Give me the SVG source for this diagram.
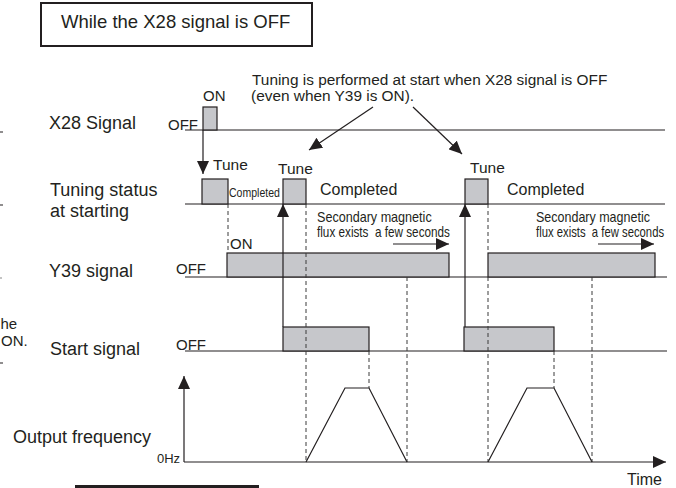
<svg xmlns="http://www.w3.org/2000/svg" width="676" height="488" viewBox="0 0 676 488">
<defs>
<style>
text{font-family:"Liberation Sans",Arial,sans-serif;fill:#231f20}
.lbl{font-size:18px}
.sm{font-size:15px}
.cond{font-size:14px;white-space:pre}
.ln{stroke:#231f20;stroke-width:1.2;fill:none}
.box{fill:#c6c7cb;stroke:#231f20;stroke-width:1.2}
.dash{stroke:#3a3a3a;stroke-width:1;stroke-dasharray:4 3;fill:none}
.ar{stroke:#231f20;stroke-width:1.2;fill:none;marker-end:url(#ah)}
</style>
<marker id="ah" markerUnits="userSpaceOnUse" markerWidth="13" markerHeight="12" refX="13" refY="6" orient="auto">
<path d="M0,0 L13,6 L0,12 z" fill="#231f20"/>
</marker>
</defs>
<rect width="676" height="488" fill="#ffffff"/>

<g id="title">
<rect x="41" y="3" width="271" height="43" fill="#fff" stroke="#231f20" stroke-width="2"/>
<text x="61" y="28" style="font-size:18.5px">While the X28 signal is OFF</text>
</g>

<g id="fragments">
<text x="0.5" y="329" class="sm">he</text>
<text x="1" y="346" class="sm">ON.</text>
<rect x="0" y="131.5" width="3" height="1" fill="#231f20"/>
<rect x="0" y="204.5" width="3" height="1" fill="#231f20"/>
<rect x="0" y="277.5" width="2" height="1" fill="#888"/>
<rect x="0" y="362.5" width="3" height="1" fill="#231f20"/>
</g>

<g id="labels">
<text x="49" y="129" class="lbl">X28 Signal</text>
<text x="50" y="196" class="lbl">Tuning status</text>
<text x="50" y="217" class="lbl">at starting</text>
<text x="49" y="277" class="lbl">Y39 signal</text>
<text x="50" y="355" class="lbl">Start signal</text>
<text x="13" y="443" class="lbl">Output frequency</text>
<text x="157" y="463" style="font-size:13px">0Hz</text>
<text x="627" y="485" style="font-size:16px">Time</text>
</g>

<g id="annotation">
<text x="252" y="84.5" style="font-size:15.4px">Tuning is performed at start when X28 signal is OFF</text>
<text x="251" y="100.5" style="font-size:15.4px">(even when Y39 is ON).</text>
</g>

<g id="x28">
<path class="ln" d="M185,130 H665"/>
<rect class="box" x="203" y="107" width="14" height="23"/>
<text x="203" y="101" class="sm">ON</text>
<text x="168" y="130" class="sm">OFF</text>
</g>

<g id="tuning">
<path class="ln" d="M185,204 H665"/>
<rect class="box" x="202" y="179" width="26" height="25"/>
<rect class="box" x="283" y="179" width="23" height="25"/>
<rect class="box" x="465" y="179" width="23" height="25"/>
<text x="213" y="170" style="font-size:15.5px">Tune</text>
<text x="278" y="174" style="font-size:15.5px">Tune</text>
<text x="470" y="173" style="font-size:15.5px">Tune</text>
<text transform="translate(229,197) scale(0.81,1)" style="font-size:13px">Completed</text>
<text x="320" y="195" style="font-size:16px">Completed</text>
<text x="507" y="195" style="font-size:16px">Completed</text>
</g>

<g id="y39">
<path class="ln" d="M185,277 H667"/>
<rect class="box" x="227" y="253" width="222" height="24"/>
<rect class="box" x="488" y="253" width="167" height="24"/>
<text x="230" y="249" class="sm">ON</text>
<text x="176" y="274" class="sm">OFF</text>
<text class="cond" transform="translate(317,222) scale(0.9,1)">Secondary magnetic</text>
<text class="cond" xml:space="preserve" transform="translate(317,237) scale(0.838,1)">flux exists  a few seconds</text>
<text class="cond" transform="translate(536,222) scale(0.893,1)">Secondary magnetic</text>
<text class="cond" xml:space="preserve" transform="translate(536,237) scale(0.807,1)">flux exists  a few seconds</text>
</g>

<g id="start">
<path class="ln" d="M185,351 H667"/>
<rect class="box" x="283" y="327" width="86" height="24"/>
<rect class="box" x="464" y="327" width="90" height="24"/>
<text x="176" y="350" class="sm">OFF</text>
</g>

<g id="frequency">
<path class="ln" d="M306,462 L345,388 L369,388 L407,462"/>
<path class="ln" d="M488,462 L527,388 L554,388 L592,462"/>
</g>

<g id="dashed">
<path class="dash" d="M228,204 V253"/>
<path class="dash" d="M306,204 V462"/>
<path class="dash" d="M369,351 V388"/>
<path class="dash" d="M407,277 V462"/>
<path class="dash" d="M488,204 V253 M488,277 V462"/>
<path class="dash" d="M554,351 V388"/>
<path class="dash" d="M592,277 V462"/>
</g>

<g id="connectors">
<path class="ar" d="M203,130 V174"/>
<path class="ar" d="M283,327 V204"/>
<path class="ar" d="M465,327 V204"/>
<path class="ar" d="M373,107 L309,150"/>
<path class="ar" d="M413,107 L462,154"/>
<path class="ar" d="M393,244 H449"/>
<path class="ar" d="M598,244 H654"/>
<path class="ar" d="M184,462 V376"/>
<path class="ar" d="M184,462 H666"/>
</g>

<rect id="bar" x="75" y="485" width="184" height="3" fill="#231f20"/>
</svg>
